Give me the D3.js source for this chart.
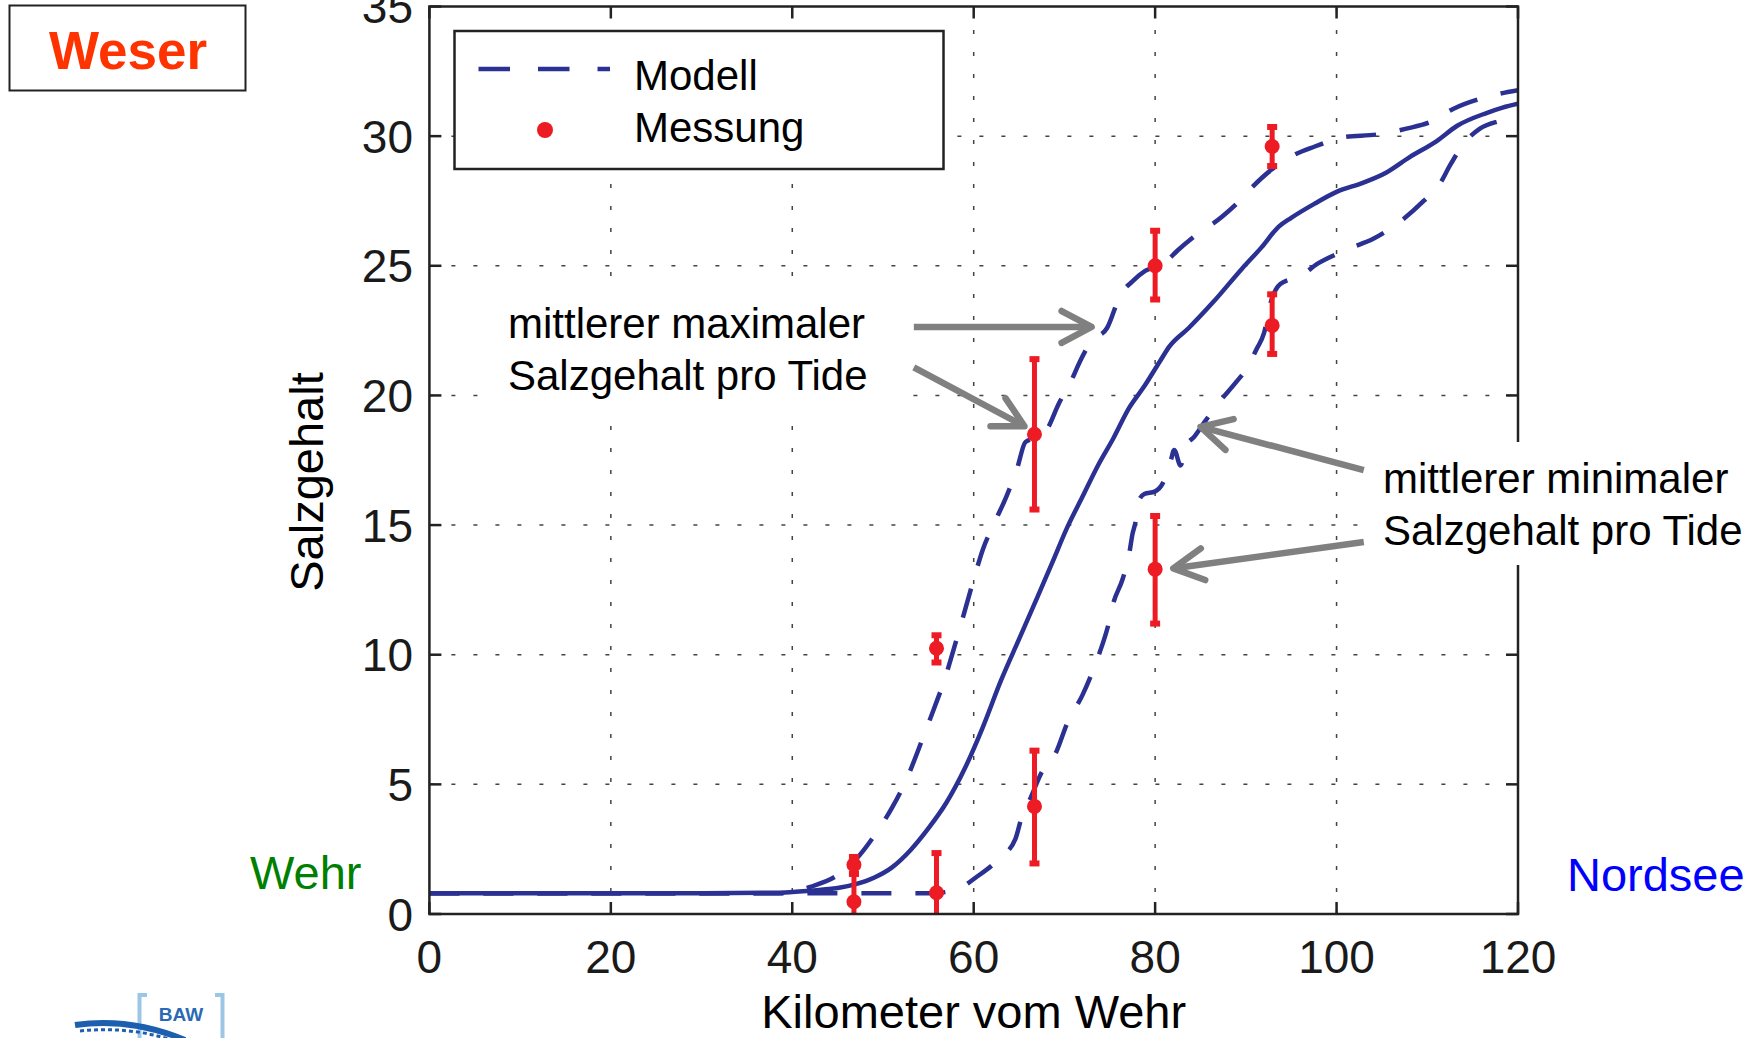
<!DOCTYPE html>
<html>
<head>
<meta charset="utf-8">
<script src="https://cdn.jsdelivr.net/npm/d3@7"></script>
<style>
  html, body { margin: 0; padding: 0; background: #fff; }
  svg { display: block; font-family: "Liberation Sans", Arial, Helvetica, sans-serif; }
</style>
</head>
<body>
<svg id="chart" width="1758" height="1038"></svg>
<script>
// Weser: Salzgehalt entlang des Flusses – Modell und Messung

const kmTicks = [0, 20, 40, 60, 80, 100, 120];
const salzTicks = [0, 5, 10, 15, 20, 25, 30, 35];

// Modell: mittlerer Salzgehalt (durchgezogene Linie)
const mittelKm = [0, 10, 20, 30, 38, 42, 45, 47, 49, 51, 53, 55, 57, 59, 61, 63, 65, 67, 68.6, 70.3,
  72, 73.7, 75.4, 77.1, 78.8, 80.5, 81.6, 83.7, 86.4, 89.6, 91.7, 93.6, 95, 97.6, 100, 102.9, 105.5,
  108.1, 111, 113.3, 116.6, 118.3, 120];
const mittelSalz = [0.8, 0.8, 0.8, 0.8, 0.82, 0.9, 1.0, 1.15, 1.4, 1.8, 2.45, 3.3, 4.3, 5.6, 7.2, 9.0, 10.6, 12.2, 13.5, 14.9,
  16.1, 17.3, 18.35, 19.5, 20.35, 21.3, 21.9, 22.6, 23.6, 24.9, 25.7, 26.5, 26.85, 27.4, 27.85, 28.2, 28.6,
  29.2, 29.8, 30.4, 30.9, 31.1, 31.25];

// Modell: mittlerer maximaler Salzgehalt pro Tide (gestrichelt)
const maxKm = [0, 10, 20, 30, 38, 40, 42, 45, 47, 49, 51, 52.6, 54.3, 55.6, 56.8, 57.7, 58.9, 60, 61, 62.3,
  63.6, 64.8, 65.7, 66.7, 68, 69.4, 70.8, 71.7, 73, 74.7, 76.2, 77.5, 78.9, 81, 82.5, 84.2, 87.4, 89, 90.6,
  92.8, 94.9, 97.6, 100.9, 104.4, 107.7, 110.3, 112.9, 116.4, 120];
const maxSalz = [0.8, 0.8, 0.8, 0.8, 0.8, 0.85, 1.05, 1.5, 2.1, 3.0, 4.1, 5.2, 6.7, 7.9, 9.05, 10.1, 11.55, 12.9, 14.05, 15.1,
  16.1, 17.2, 18.2, 18.35, 18.65, 19.7, 20.6, 21.3, 22.1, 22.6, 23.9, 24.4, 24.8, 25.1, 25.6, 26.1, 26.9, 27.4, 28.0,
  28.7, 29.2, 29.6, 29.97, 30.06, 30.29, 30.54, 31.06, 31.5, 31.77];

// Modell: mittlerer minimaler Salzgehalt pro Tide (gestrichelt)
const minKm = [0, 10, 20, 30, 40, 50, 55, 57, 58.5, 60.2, 62.7, 64.6, 65.3, 66.3, 67.4, 69.1, 70.3, 72, 73.1, 73.9,
  74.8, 75.4, 76.4, 77.1, 77.5, 77.9, 78.1, 78.8, 80, 80.9, 81.7, 82.1, 82.8, 83.4, 84.3, 85.5, 87.2, 88.9, 90.2,
  91.2, 92, 92.75, 93.8, 96, 98, 100, 101.3, 104.1, 106.6, 109.6, 111.4, 112.5, 114, 115.8, 118.1, 120];
const minSalz = [0.8, 0.8, 0.8, 0.8, 0.8, 0.8, 0.8, 0.85, 1.0, 1.4, 2.1, 2.9, 3.75, 4.5, 5.4, 6.25, 7.35, 8.45, 9.35, 10.1,
  11.1, 12.0, 12.9, 13.8, 14.65, 15.25, 15.85, 16.2, 16.3, 16.65, 17.45, 17.9, 17.3, 18.05, 18.4, 19.0, 19.8, 20.5, 21.1,
  21.8, 22.4, 23.6, 24.3, 24.6, 25.1, 25.45, 25.65, 26.05, 26.6, 27.5, 28.17, 28.87, 29.7, 30.29, 30.6, 30.78];

// Messungen mit Schwankungsbereich
const messKm = [46.8, 46.8, 55.9, 55.9, 66.7, 66.7, 80.0, 80.0, 92.9, 92.9];
const messSalz = [1.9, 0.47, 10.25, 0.82, 18.5, 4.15, 25.0, 13.3, 29.6, 22.7];
const messUnten = [1.55, -1.0, 9.7, -1.0, 15.6, 1.95, 23.7, 11.2, 28.85, 21.6];
const messOben = [2.2, 1.55, 10.75, 2.35, 21.4, 6.3, 26.35, 15.35, 30.35, 23.9];

const legendLabels = ["Modell", "Messung"];

// ---- Layout und Farben ----
const plot = { left: 429.4, right: 1518, top: 6.5, bottom: 914 };
const blau = "#2b3192";
const rot = "#ed1c24";
const grau = "#808080";
const strich = "30 24";

const svg = d3.select("#chart");

const x = d3.scaleLinear().domain([0, 120]).range([plot.left, plot.right]);
const y = d3.scaleLinear().domain([0, 35]).range([plot.bottom, plot.top]);

svg.append("defs").append("clipPath").attr("id", "plotClip")
  .append("rect")
  .attr("x", plot.left).attr("y", plot.top)
  .attr("width", plot.right - plot.left).attr("height", plot.bottom - plot.top);

// Gitterlinien (punktiert)
const grid = svg.append("g").attr("stroke", "#444").attr("stroke-width", 1.5).attr("stroke-dasharray", "4 18");
grid.selectAll("line.gx").data(kmTicks.slice(1, -1)).join("line")
  .attr("x1", d => x(d)).attr("x2", d => x(d))
  .attr("y1", plot.bottom).attr("y2", plot.top);
grid.selectAll("line.gy").data(salzTicks.slice(1, -1)).join("line")
  .attr("y1", d => y(d)).attr("y2", d => y(d))
  .attr("x1", plot.left).attr("x2", plot.right);

// Modellkurven
const linie = (ks, vs) => d3.line().curve(d3.curveMonotoneX)
  .x(i => x(ks[i])).y(i => y(vs[i]))(d3.range(ks.length));

const kurven = svg.append("g").attr("clip-path", "url(#plotClip)")
  .attr("fill", "none").attr("stroke", blau).attr("stroke-width", 4.5)
  .attr("stroke-linejoin", "round");
kurven.append("path").attr("d", linie(maxKm, maxSalz)).attr("stroke-dasharray", strich);
kurven.append("path").attr("d", linie(minKm, minSalz)).attr("stroke-dasharray", strich);
kurven.append("path").attr("d", linie(mittelKm, mittelSalz));

// Messpunkte mit Fehlerbalken
const mess = svg.append("g").attr("clip-path", "url(#plotClip)");
const idx = d3.range(messKm.length);
mess.selectAll("line.bar").data(idx).join("line")
  .attr("x1", i => x(messKm[i])).attr("x2", i => x(messKm[i]))
  .attr("y1", i => y(messUnten[i])).attr("y2", i => y(messOben[i]))
  .attr("stroke", rot).attr("stroke-width", 5);
const caps = [];
idx.forEach(i => { caps.push([messKm[i], messUnten[i]]); caps.push([messKm[i], messOben[i]]); });
mess.selectAll("line.cap").data(caps.filter(c => c[1] >= 0)).join("line")
  .attr("x1", c => x(c[0]) - 5).attr("x2", c => x(c[0]) + 5)
  .attr("y1", c => y(c[1])).attr("y2", c => y(c[1]))
  .attr("stroke", rot).attr("stroke-width", 6);
mess.selectAll("circle").data(idx).join("circle")
  .attr("cx", i => x(messKm[i])).attr("cy", i => y(messSalz[i]))
  .attr("r", 7.5).attr("fill", rot);

// Achsenrahmen mit Teilstrichen nach innen
const axisG = svg.append("g").attr("stroke", "#222").attr("stroke-width", 2.5);
axisG.append("rect")
  .attr("x", plot.left).attr("y", plot.top)
  .attr("width", plot.right - plot.left).attr("height", plot.bottom - plot.top)
  .attr("fill", "none");
const tl = 12;
kmTicks.forEach(k => {
  axisG.append("line").attr("x1", x(k)).attr("x2", x(k)).attr("y1", plot.bottom).attr("y2", plot.bottom - tl);
  axisG.append("line").attr("x1", x(k)).attr("x2", x(k)).attr("y1", plot.top).attr("y2", plot.top + tl);
});
salzTicks.forEach(s => {
  axisG.append("line").attr("y1", y(s)).attr("y2", y(s)).attr("x1", plot.left).attr("x2", plot.left + tl);
  axisG.append("line").attr("y1", y(s)).attr("y2", y(s)).attr("x1", plot.right).attr("x2", plot.right - tl);
});

// Achsenbeschriftung
const tickText = svg.append("g").attr("fill", "#1a1a1a").attr("font-size", 46);
tickText.selectAll("text.kx").data(kmTicks).join("text")
  .attr("x", d => x(d)).attr("y", 973).attr("text-anchor", "middle").text(d => d);
tickText.selectAll("text.sy").data(salzTicks).join("text")
  .attr("x", 413).attr("y", d => y(d)).attr("dy", "0.36em").attr("text-anchor", "end").text(d => d);

svg.append("text").attr("x", (plot.left + plot.right) / 2).attr("y", 1028)
  .attr("text-anchor", "middle").attr("font-size", 47).attr("fill", "#000")
  .text("Kilometer vom Wehr");
svg.append("text").attr("transform", "translate(323,482) rotate(-90)")
  .attr("text-anchor", "middle").attr("font-size", 47).attr("fill", "#000")
  .text("Salzgehalt");

// Flussenden
svg.append("text").attr("x", 250).attr("y", 889).attr("font-size", 47).attr("fill", "#008000").text("Wehr");
svg.append("text").attr("x", 1567).attr("y", 891).attr("font-size", 47).attr("fill", "#0000ff").text("Nordsee");

// Titelkasten
svg.append("rect").attr("x", 9.5).attr("y", 5.5).attr("width", 236).attr("height", 85)
  .attr("fill", "#fff").attr("stroke", "#222").attr("stroke-width", 2);
svg.append("text").attr("x", 128).attr("y", 69).attr("text-anchor", "middle")
  .attr("font-size", 53).attr("font-weight", "bold").attr("fill", "#ff3300").text("Weser");

// Legende
const leg = svg.append("g");
leg.append("rect").attr("x", 454.5).attr("y", 31).attr("width", 489).attr("height", 138)
  .attr("fill", "#fff").attr("stroke", "#222").attr("stroke-width", 2.5);
leg.append("line").attr("x1", 478.5).attr("x2", 610).attr("y1", 69).attr("y2", 69)
  .attr("stroke", blau).attr("stroke-width", 4.5).attr("stroke-dasharray", "31.5 28");
leg.append("circle").attr("cx", 545).attr("cy", 130).attr("r", 8).attr("fill", rot);
leg.selectAll("text").data(legendLabels).join("text")
  .attr("x", 634).attr("y", (d, i) => 90 + i * 52)
  .attr("font-size", 42).attr("fill", "#000").text(d => d);

// Erläuterungen mit Pfeilen
const notes = [
  { box: [495, 287, 417, 132], x: 508, y: 338, lines: ["mittlerer maximaler", "Salzgehalt pro Tide"] },
  { box: [1366, 442, 392, 123], x: 1383, y: 493, lines: ["mittlerer minimaler", "Salzgehalt pro Tide"] }
];
notes.forEach(n => {
  svg.append("rect").attr("x", n.box[0]).attr("y", n.box[1]).attr("width", n.box[2]).attr("height", n.box[3]).attr("fill", "#fff");
  n.lines.forEach((t, i) => {
    svg.append("text").attr("x", n.x).attr("y", n.y + i * 52).attr("font-size", 42).attr("fill", "#000").text(t);
  });
});

// Pfeile in Datenkoordinaten (km, Salzgehalt)
const pfeile = [
  { von: [53.4, 22.64], nach: [73.0, 22.64] },
  { von: [53.4, 21.08], nach: [65.6, 18.81] },
  { von: [103.0, 17.12], nach: [85.0, 18.79] },
  { von: [103.0, 14.35], nach: [82.0, 13.33] }
];
const pg = svg.append("g").attr("stroke", grau).attr("stroke-width", 6.5)
  .attr("fill", "none").attr("stroke-linecap", "round").attr("stroke-linejoin", "round");
pfeile.forEach(p => {
  const x1 = x(p.von[0]), y1 = y(p.von[1]), x2 = x(p.nach[0]), y2 = y(p.nach[1]);
  const ang = Math.atan2(y2 - y1, x2 - x1);
  const L = 34, a = 28 * Math.PI / 180;
  pg.append("line").attr("x1", x1).attr("y1", y1).attr("x2", x2 - 3 * Math.cos(ang)).attr("y2", y2 - 3 * Math.sin(ang))
    .attr("stroke-linecap", "butt");
  const p1 = [x2 - L * Math.cos(ang - a), y2 - L * Math.sin(ang - a)];
  const p2 = [x2 - L * Math.cos(ang + a), y2 - L * Math.sin(ang + a)];
  pg.append("path").attr("d", `M${p1[0]},${p1[1]}L${x2},${y2}L${p2[0]},${p2[1]}`);
});

// BAW-Logo
const logo = svg.append("g");
logo.append("path").attr("d", "M147,995 L139.5,995 L139.5,1038").attr("fill", "none").attr("stroke", "#9cc6e6").attr("stroke-width", 4);
logo.append("path").attr("d", "M215,995 L222.5,995 L222.5,1038").attr("fill", "none").attr("stroke", "#9cc6e6").attr("stroke-width", 4);
logo.append("text").attr("x", 181).attr("y", 1021).attr("text-anchor", "middle")
  .attr("font-size", 19).attr("font-weight", "bold").attr("fill", "#2a6ab4").text("BAW");
logo.append("path").attr("d", "M75,1025 Q130,1017 185,1040").attr("fill", "none").attr("stroke", "#1b5fae").attr("stroke-width", 6);
logo.append("path").attr("d", "M80,1031 Q128,1026 172,1040").attr("fill", "none").attr("stroke", "#1b5fae")
  .attr("stroke-width", 3).attr("stroke-dasharray", "4 3");
</script>
</body>
</html>
